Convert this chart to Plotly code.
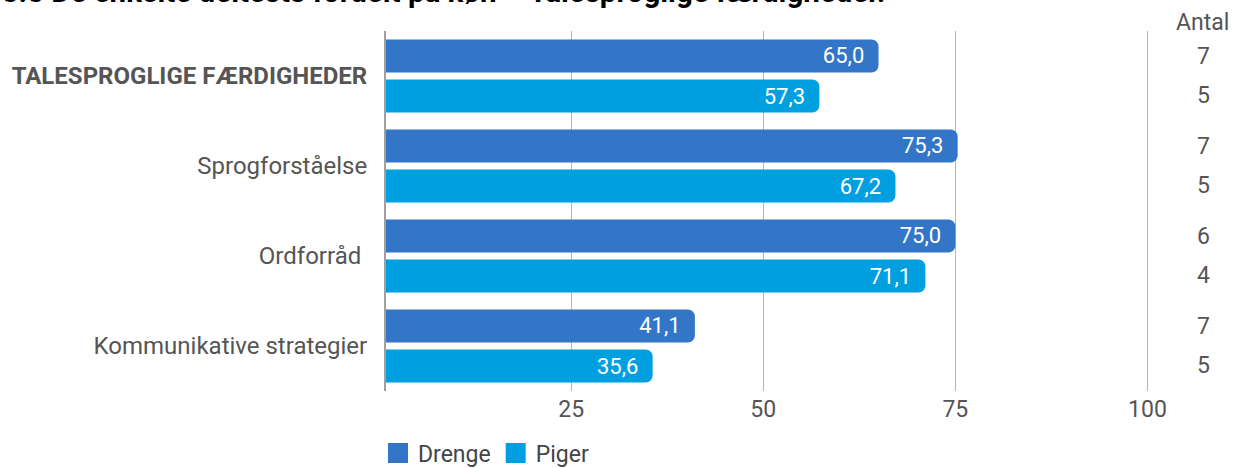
import plotly.graph_objects as go

categories = [
    "<b>TALESPROGLIGE FÆRDIGHEDER</b>",
    "Sprogforståelse",
    "Ordforråd ",
    "Kommunikative strategier",
]
drenge = [65.0, 75.3, 75.0, 41.1]
piger = [57.3, 67.2, 71.1, 35.6]
antal_drenge = [7, 7, 6, 7]
antal_piger = [5, 5, 4, 5]

W, H = 1233, 468
L, R, T, B = 386, 84, 31, 77
plot_w = W - L - R
plot_h = H - T - B

blue = "#3375c6"
cyan = "#00a0e0"
grey_txt = "#555555"


def fmt(v):
    return f"{v:.1f}".replace(".", ",") + "\u00a0\u2009"


def px_x(x):
    return (x - L) / plot_w


def px_y(y):
    return 1 - (y - T) / plot_h


fig = go.Figure()
for name, vals, col in (("Drenge", drenge, blue), ("Piger", piger, cyan)):
    fig.add_trace(go.Bar(
        y=categories, x=vals, name=name, orientation="h",
        marker=dict(color=col, line=dict(width=0)),
        text=[fmt(v) for v in vals], textposition="inside",
        insidetextanchor="end", textfont=dict(color="white", size=22),
        showlegend=False,
    ))
# legend entries with bigger square swatches
for name, col in (("Drenge", blue), ("Piger", cyan)):
    fig.add_trace(go.Scatter(
        x=[None], y=[None], mode="markers", name=name,
        marker=dict(symbol="square", size=16, color=col,
                    line=dict(color=col, width=4)),
    ))

# Antal column on the right
annotations = [dict(
    text="Antal", xref="paper", yref="paper", x=px_x(1202), y=px_y(22),
    xanchor="center", yanchor="middle", showarrow=False,
    font=dict(size=23, color=grey_txt),
)]
for i in range(len(categories)):
    for n, off in ((antal_drenge[i], -0.222), (antal_piger[i], 0.222)):
        annotations.append(dict(
            text=str(n), xref="paper", yref="y", x=px_x(1203), y=i + off,
            xanchor="center", yanchor="middle", showarrow=False,
            font=dict(size=23, color=grey_txt),
        ))

# title, cut off at the top of the picture
annotations.append(dict(
    text="<b>Figur 5.5 De enkelte deltests fordelt på køn – Talesproglige færdigheder.</b>",
    xref="paper", yref="paper", x=px_x(887), y=px_y(11),
    xanchor="right", yanchor="bottom", showarrow=False,
    font=dict(size=29.5, color="black"),
))

fig.update_layout(
    width=W, height=H,
    margin=dict(l=L, r=R, t=T, b=B, autoexpand=False),
    paper_bgcolor="white", plot_bgcolor="white",
    font=dict(family="Roboto", size=23, color=grey_txt),
    barmode="group", bargap=0.11, bargroupgap=0.175,
    barcornerradius=7,
    showlegend=True,
    legend=dict(
        orientation="h", x=px_x(378), xanchor="left", y=px_y(453), yanchor="middle",
        font=dict(size=23, color="#444444"), itemclick=False,
        traceorder="normal",
    ),
    annotations=annotations,
    xaxis=dict(
        range=[0.9, 100.2], tickvals=[25, 50, 75, 100],
        showgrid=True, gridcolor="#b5b5b5", gridwidth=1,
        zeroline=False, showline=False, ticks="",
        tickfont=dict(size=23, color=grey_txt),
        ticklabelstandoff=2,
    ),
    yaxis=dict(
        categoryorder="array", categoryarray=categories,
        autorange="reversed", showgrid=False, zeroline=False,
        showline=True, linecolor="#a0a0a0", linewidth=2, ticks="",
        ticklabelstandoff=12,
        tickfont=dict(size=24, color=grey_txt),
    ),
)

# page body margin off so the figure sits at the window's top-left corner
fig.write_html(
    "out.html",
    config={"displayModeBar": False},
    post_script="document.body.style.margin='0px';",
)
